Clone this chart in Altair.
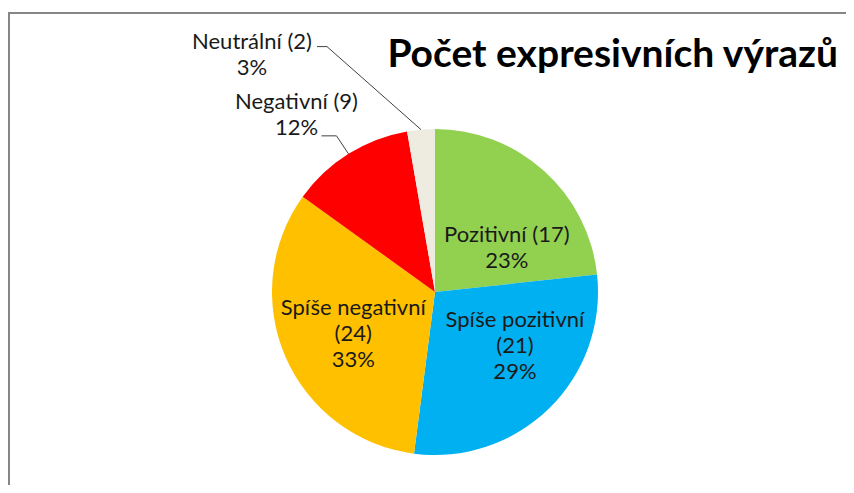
import altair as alt
import pandas as pd

# ---- data ----
categories = ["Pozitivní", "Spíše pozitivní", "Spíše negativní", "Negativní", "Neutrální"]
counts = [17, 21, 24, 9, 2]
colors = ["#92D050", "#00B0F0", "#FFC000", "#FF0000", "#EEECE1"]
title_text = "Počet expresivních výrazů"

# ---- layout (pixels in view coordinates) ----
OX, OY = 8, 8
W, H = 854 - 2 * OX, 493 - 2 * OY
CX, CY, R = 435 - OX, 292 - OY, 163
FONT = "Lato"
label_layout = {
    "Pozitivní":       dict(wrap=0, lr=100, ldx=5,    ldy=24,    leader=0, bdx=0,   bdy=0,   tdx=0),
    "Spíše pozitivní": dict(wrap=1, lr=100, ldx=10,   ldy=-36.5, leader=0, bdx=0,   bdy=0,   tdx=0),
    "Spíše negativní": dict(wrap=1, lr=100, ldx=10,   ldy=-17,   leader=0, bdx=0,   bdy=0,   tdx=0),
    "Negativní":       dict(wrap=0, lr=R,   ldx=-52,  ldy=-44.6, leader=1, bdx=-12, bdy=-18, tdx=-15),
    "Neutrální":       dict(wrap=0, lr=R,   ldx=-169, ldy=-80.7, leader=1, bdx=-94, bdy=-83, tdx=-10),
}

df = pd.DataFrame({"category": categories, "value": counts, "idx": range(len(categories))})
for key in ["wrap", "lr", "ldx", "ldy", "leader", "bdx", "bdy", "tdx"]:
    df[key] = [label_layout[c][key] for c in categories]

base = (
    alt.Chart(df)
    .transform_joinaggregate(total="sum(value)")
    .transform_window(cum="sum(value)", sort=[alt.SortField("idx")], frame=[None, 0])
    .transform_calculate(
        mid="2*PI*(datum.cum - datum.value/2)/datum.total",
        pct="format(datum.value/datum.total, '.0%')",
    )
    .transform_calculate(
        ex=f"{CX} + {R}*sin(datum.mid)",
        ey=f"{CY} - {R}*cos(datum.mid)",
        lx=f"{CX} + datum.lr*sin(datum.mid) + datum.ldx",
        ly=f"{CY} - datum.lr*cos(datum.mid) + datum.ldy",
        label="datum.wrap ? datum.category + '\\n(' + datum.value + ')\\n' + datum.pct"
              " : datum.category + ' (' + datum.value + ')\\n' + datum.pct",
    )
    .transform_calculate(
        bx="datum.ex + datum.bdx",
        by="datum.ey + datum.bdy",
    )
    .transform_calculate(tx="datum.bx + datum.tdx")
)

pie = base.mark_arc(outerRadius=R, stroke=None).encode(
    theta=alt.Theta("value:Q", stack=True),
    order=alt.Order("idx:Q"),
    color=alt.Color("category:N", scale=alt.Scale(domain=categories, range=colors), legend=None),
    x=alt.value(CX),
    y=alt.value(CY),
)

leaders = base.transform_filter("datum.leader == 1")
seg1 = leaders.mark_rule(color="#404040", strokeWidth=1).encode(
    x=alt.X("ex:Q", scale=None, axis=None),
    y=alt.Y("ey:Q", scale=None, axis=None),
    x2="bx:Q",
    y2="by:Q",
)
seg2 = leaders.mark_rule(color="#404040", strokeWidth=1).encode(
    x=alt.X("bx:Q", scale=None, axis=None),
    y=alt.Y("by:Q", scale=None, axis=None),
    x2="tx:Q",
    y2="by:Q",
)

labels = base.mark_text(
    font=FONT, fontSize=22, lineBreak="\n", lineHeight=26,
    align="center", baseline="alphabetic", color="#1a1a1a",
).encode(
    x=alt.X("lx:Q", scale=None, axis=None),
    y=alt.Y("ly:Q", scale=None, axis=None),
    text="label:N",
)

title = alt.Chart(pd.DataFrame({"t": [title_text]})).mark_text(
    font=FONT, fontSize=39, fontWeight="bold", align="right", baseline="alphabetic", color="#000000",
).encode(x=alt.value(838 - OX), y=alt.value(67 - OY), text="t:N")

frame = alt.Chart(pd.DataFrame({"a": [0]})).mark_rect(
    filled=False, stroke="#868686", strokeWidth=2,
).encode(x=alt.value(1), y=alt.value(5), x2=alt.value(2000), y2=alt.value(2000))

chart = alt.layer(frame, pie, seg1, seg2, labels, title).properties(
    width=W, height=H, autosize=alt.AutoSizeParams(type="none"), padding=0,
).configure_view(stroke=None)

chart.save("out.html", embed_options={"renderer": "svg", "actions": False})
